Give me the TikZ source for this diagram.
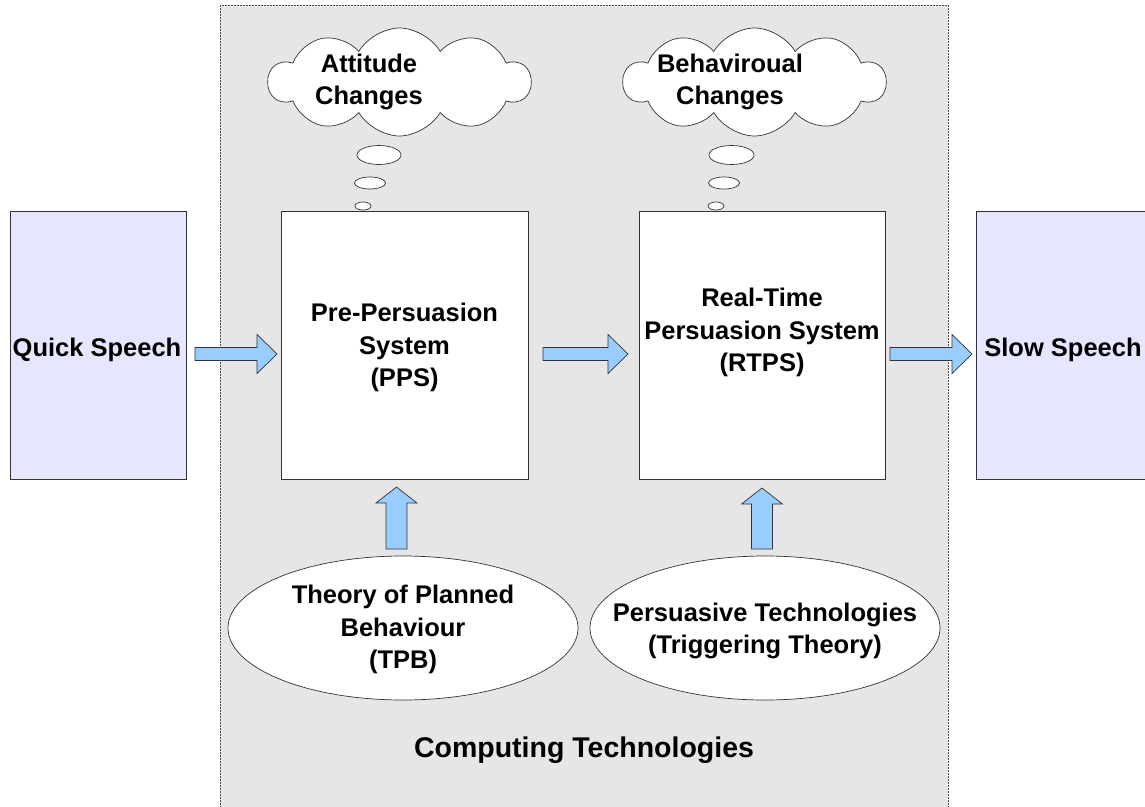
\documentclass[tikz,border=0pt]{standalone}
\usepackage{fontspec}
\setmainfont{Liberation Sans}
\usetikzlibrary{calc,shapes.geometric,shapes.symbols}

\definecolor{panelgray}{HTML}{E6E6E6}
\definecolor{lavender}{HTML}{E6E6FF}
\definecolor{arrowblue}{HTML}{99CCFF}
\definecolor{edgegray}{HTML}{333333}

% block arrow pointing right, between two points at the same height
\newcommand\rightblock[2]{%
  \filldraw[blockarrow] let \p1=(#1), \p2=(#2) in
    (\x1,\y1+6.5pt) -- (\x2-20pt,\y1+6.5pt) -- (\x2-20pt,\y1+19.5pt) -- (\x2,\y1)
    -- (\x2-20pt,\y1-19.5pt) -- (\x2-20pt,\y1-6.5pt) -- (\x1,\y1-6.5pt) -- cycle;}
% block arrow pointing up, from a bottom point to a tip point
\newcommand\upblock[2]{%
  \filldraw[blockarrow] let \p1=(#1), \p2=(#2) in
    (\x1-10.5pt,\y1) -- (\x1-10.5pt,\y2-16pt) -- (\x1-20.5pt,\y2-16pt) -- (\x1,\y2)
    -- (\x1+20.5pt,\y2-16pt) -- (\x1+10.5pt,\y2-16pt) -- (\x1+10.5pt,\y1) -- cycle;}

\tikzset{
  lbl/.style={font=\bfseries\fontsize{25.5}{32.5}\selectfont, align=center, text=black,
    yshift=-2.5pt},
  sidebox/.style={draw=edgegray, line width=0.8pt, fill=lavender, minimum width=176pt,
    minimum height=268pt, inner sep=0pt, outer sep=0pt},
  sysbox/.style={draw=edgegray, line width=0.8pt, fill=white, minimum height=268pt,
    inner sep=0pt, outer sep=0pt},
  theory/.style={ellipse, draw=edgegray, line width=0.7pt, fill=white, minimum width=350pt,
    minimum height=144pt, inner sep=0pt, outer sep=0pt},
  thought/.style={cloud, cloud puffs=10, cloud puff arc=120, aspect=2.4, draw=edgegray,
    line width=0.7pt, fill=white, minimum width=262pt, minimum height=108pt, inner sep=0pt},
  bubble/.style={ellipse, draw=edgegray, line width=0.7pt, fill=white, inner sep=0pt},
  blockarrow/.style={fill=arrowblue, draw=edgegray, line width=0.7pt, line join=miter},
}

\begin{document}
\begin{tikzpicture}[x=1pt, y=-1pt]
\useasboundingbox (0,0) rectangle (1145,806);
\clip (0,0) rectangle (1145,806);
\fill[white] (0,0) rectangle (1145,806);

% computing panel
\draw[fill=panelgray, draw=black!70, line width=0.7pt, dash pattern=on 2pt off 1pt]
  (220,5) rectangle (948,830);
\node[lbl, font=\bfseries\fontsize{28.5}{34}\selectfont] (ct) at (584,748) {Computing Technologies};

% side boxes
\node[sidebox] (qs) at (98,345) {};
\node[lbl] (qst) at (97,347) {Quick Speech};
\node[sidebox] (ss) at (1064,345) {};
\node[lbl] (sst) at (1063,347) {Slow Speech};

% persuasion systems
\node[sysbox, minimum width=247pt] (pps) at (404.5,345) {};
\node[lbl] (ppst) at (404.5,345) {Pre-Persuasion\\System\\(PPS)};
\node[sysbox, minimum width=246pt] (rtps) at (762,345) {};
\node[lbl] (rtpst) at (762,330) {Real-Time\\Persuasion System\\(RTPS)};

% theories
\node[theory] (tpb) at (403,628) {};
\node[lbl] (tpbt) at (403,627) {Theory of Planned\\Behaviour\\(TPB)};
\node[theory] (pt) at (765,628) {};
\node[lbl] (ptt) at (765,628.5) {Persuasive Technologies\\(Triggering Theory)};

% thought clouds
\node[thought] (ac) at (399.5,82) {};
\node[lbl] (act) at (369,79.5) {Attitude\\Changes};
\node[bubble, minimum width=44pt, minimum height=19pt] (ab1) at (379,155) {};
\node[bubble, minimum width=31pt, minimum height=12pt] (ab2) at (370,183) {};
\node[bubble, minimum width=16pt, minimum height=8pt] (ab3) at (363,206) {};

\node[thought] (bc) at (754.5,82) {};
\node[lbl] (bct) at (730,79.5) {Behaviroual\\Changes};
\node[bubble, minimum width=45pt, minimum height=19pt] (bb1) at (731.5,155) {};
\node[bubble, minimum width=31pt, minimum height=12pt] (bb2) at (724,183) {};
\node[bubble, minimum width=16pt, minimum height=8pt] (bb3) at (716,206) {};

% flow arrows
\rightblock{$(qs.east)+(9,9)$}{$(pps.west)+(-4,9)$}
\rightblock{$(pps.east)+(15,9)$}{$(rtps.west)+(-11,9)$}
\rightblock{$(rtps.east)+(5,9)$}{$(ss.west)+(-4,9)$}
\upblock{$(tpb.north)+(-6.5,-7)$}{$(pps.south)+(-8,8)$}
\upblock{$(pt.north)+(-3,-7)$}{$(rtps.south)+(0,9)$}
\end{tikzpicture}
\end{document}
